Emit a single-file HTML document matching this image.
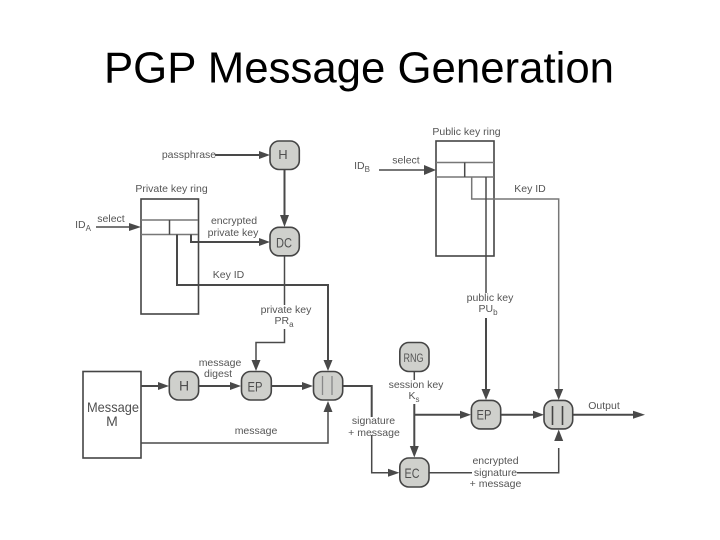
<!DOCTYPE html>
<html><head><meta charset="utf-8"><style>
html,body{margin:0;padding:0;background:#fff;width:720px;height:540px;overflow:hidden}
svg{display:block}
.t{font-family:"Liberation Sans",sans-serif;font-size:10.5px;fill:#555;text-anchor:middle}
.n{font-family:"Liberation Sans",sans-serif;font-size:14px;fill:#505050;text-anchor:middle}
.b{fill:#cfd0cc;stroke:#444;stroke-width:1.6}
.l{fill:none;stroke:#4a4a4a;stroke-width:1.5}
.h{fill:none;stroke:#4a4a4a;stroke-width:2}
.m{fill:none;stroke:#777;stroke-width:1.5}
.a{fill:#4a4a4a}
</style></head><body>
<svg width="720" height="540" viewBox="0 0 720 540" xmlns="http://www.w3.org/2000/svg">
<defs><filter id="s" x="0" y="0" width="100%" height="100%"><feGaussianBlur stdDeviation="0.3"/></filter></defs>
<text x="104" y="82.5" font-family="Liberation Sans, sans-serif" font-size="44" fill="#000" textLength="510" lengthAdjust="spacingAndGlyphs">PGP Message Generation</text>

<g filter="url(#s)">
<!-- rings -->
<rect x="141" y="199" width="57.5" height="115" fill="none" stroke="#444" stroke-width="1.6"/>
<path class="m" d="M141 220H198M141 234.5H198"/>
<path class="l" d="M169.5 220V234.5"/>
<rect x="436" y="141" width="58" height="115" fill="none" stroke="#444" stroke-width="1.6"/>
<path class="m" d="M436 162.5H494M436 177H494"/>
<path class="l" d="M464.7 162.5V177"/>
<rect x="83" y="371.5" width="58" height="86.5" fill="none" stroke="#444" stroke-width="1.6"/>

<!-- connectors -->
<path class="h" d="M215 155H262"/>
<path class="h" d="M284.5 169V220"/>
<path class="l" d="M96 227H131"/>
<path class="h" d="M191 234.5V242H262"/>
<path class="h" d="M177 234.5V285H328V363"/>
<path class="l" d="M284.5 256V305"/>
<path class="l" d="M284.5 329V342.500H256V362"/>
<path class="l" d="M379 170H426"/>
<path class="m" d="M471.700 177V199H558.700V392"/>
<path class="l" d="M486 177V293"/>
<path class="h" d="M486 318V392"/>
<path class="h" d="M141 386H162"/>
<path class="h" d="M198.700 386H234"/>
<path class="h" d="M271.300 386H306"/>
<path class="l" d="M141 443H328V408"/>
<path class="h" d="M342.700 386H371.700V417"/>
<path class="l" d="M371.700 435V472.700H390"/>
<path class="l" d="M414.300 371.700V380"/>
<path class="h" d="M414.300 404V450"/>
<path class="h" d="M414.300 414.700H464"/>
<path class="h" d="M500.700 414.700H537"/>
<path class="h" d="M572.700 414.700H636"/>
<path class="l" d="M429 472.700H472"/>
<path class="l" d="M517 472.700H558.700V448"/>

<!-- arrowheads -->
<g class="a">
<path d="M270 155L259 151V159Z"/>
<path d="M284.500 227L280 215H289Z"/>
<path d="M141 227L129 223V231Z"/>
<path d="M270 242L259 238V246Z"/>
<path d="M328 371L323.500 360H332.500Z"/>
<path d="M256 371L251.500 360H260.500Z"/>
<path d="M436 170L424 165V175Z"/>
<path d="M486 400L481.500 389H490.500Z"/>
<path d="M558.700 400L554.200 389H563.200Z"/>
<path d="M169 386L158 382V390Z"/>
<path d="M241 386L230 382V390Z"/>
<path d="M313 386L302 382V390Z"/>
<path d="M328 401L323.500 412H332.500Z"/>
<path d="M399.500 472.700L388 468.700V476.700Z"/>
<path d="M414.300 457.500L409.800 446H418.800Z"/>
<path d="M471 414.700L460 410.700V418.700Z"/>
<path d="M544 414.700L533 410.700V418.700Z"/>
<path d="M558.700 429.500L554.200 441H563.200Z"/>
<path d="M645 414.700L633 410.700V418.700Z"/>
</g>

<!-- nodes -->
<rect class="b" x="270" y="141" width="29.300" height="28.500" rx="9"/>
<rect class="b" x="270" y="227.300" width="29.300" height="28.500" rx="9"/>
<rect class="b" x="169.300" y="371.500" width="29.300" height="28.500" rx="9"/>
<rect class="b" x="241.500" y="371.500" width="29.800" height="28.500" rx="9"/>
<rect class="b" x="313.500" y="371.500" width="29.200" height="28.500" rx="9"/>
<rect class="b" x="399.800" y="342.500" width="29.200" height="29" rx="9"/>
<rect class="b" x="471.400" y="400.400" width="29.300" height="28.500" rx="9"/>
<rect class="b" x="544" y="400.400" width="28.700" height="28.500" rx="9"/>
<rect class="b" x="399.800" y="458" width="29.200" height="29" rx="9"/>

<text class="n" x="283" y="159" style="font-size:13px">H</text>
<text class="n" x="284" y="247.300" textLength="16" lengthAdjust="spacingAndGlyphs">DC</text>
<text class="n" x="184" y="390.500">H</text>
<text class="n" x="255" y="391.700" textLength="15" lengthAdjust="spacingAndGlyphs">EP</text>
<path d="M322.500 376V395M332 376V395" stroke="#888" stroke-width="1.3" fill="none"/>
<text class="t" x="413.500" y="362" style="font-size:11.5px" textLength="20" lengthAdjust="spacingAndGlyphs">RNG</text>
<text class="n" x="484" y="419.500" textLength="15" lengthAdjust="spacingAndGlyphs">EP</text>
<path d="M552.500 406V425M562.500 406V425" stroke="#444" stroke-width="1.6" fill="none"/>
<text class="n" x="412" y="478" textLength="15" lengthAdjust="spacingAndGlyphs">EC</text>

<!-- labels -->
<text class="t" x="189" y="158">passphrase</text>
<text class="t" x="171.500" y="192">Private key ring</text>
<text class="t" x="466.500" y="135">Public key ring</text>
<text class="t" x="111" y="222">select</text>
<text class="t" x="83" y="228">ID<tspan font-size="8" dy="3">A</tspan></text>
<text class="t" x="406" y="163.500">select</text>
<text class="t" x="362" y="169">ID<tspan font-size="8" dy="3">B</tspan></text>
<text class="t" x="234" y="224">encrypted</text>
<text class="t" x="233" y="236">private key</text>
<text class="t" x="228.500" y="278">Key ID</text>
<text class="t" x="530" y="192">Key ID</text>
<text class="t" x="286" y="313">private key</text>
<text class="t" x="284" y="324">PR<tspan font-size="8" dy="3">a</tspan></text>
<text class="t" x="490" y="301">public key</text>
<text class="t" x="488" y="312">PU<tspan font-size="8" dy="3">b</tspan></text>
<text class="t" x="220" y="366">message</text>
<text class="t" x="218" y="377">digest</text>
<text class="n" x="113" y="412" textLength="52" lengthAdjust="spacingAndGlyphs">Message</text>
<text class="n" x="112" y="426">M</text>
<text class="t" x="256" y="434">message</text>
<text class="t" x="416" y="388">session key</text>
<text class="t" x="414" y="399">K<tspan font-size="8" dy="3">s</tspan></text>
<text class="t" x="373.500" y="424">signature</text>
<text class="t" x="374" y="436">+ message</text>
<text class="t" x="604" y="409">Output</text>
<text class="t" x="495.500" y="464">encrypted</text>
<text class="t" x="495.500" y="476">signature</text>
<text class="t" x="495.500" y="487">+ message</text>
</g>
</svg>
</body></html>
